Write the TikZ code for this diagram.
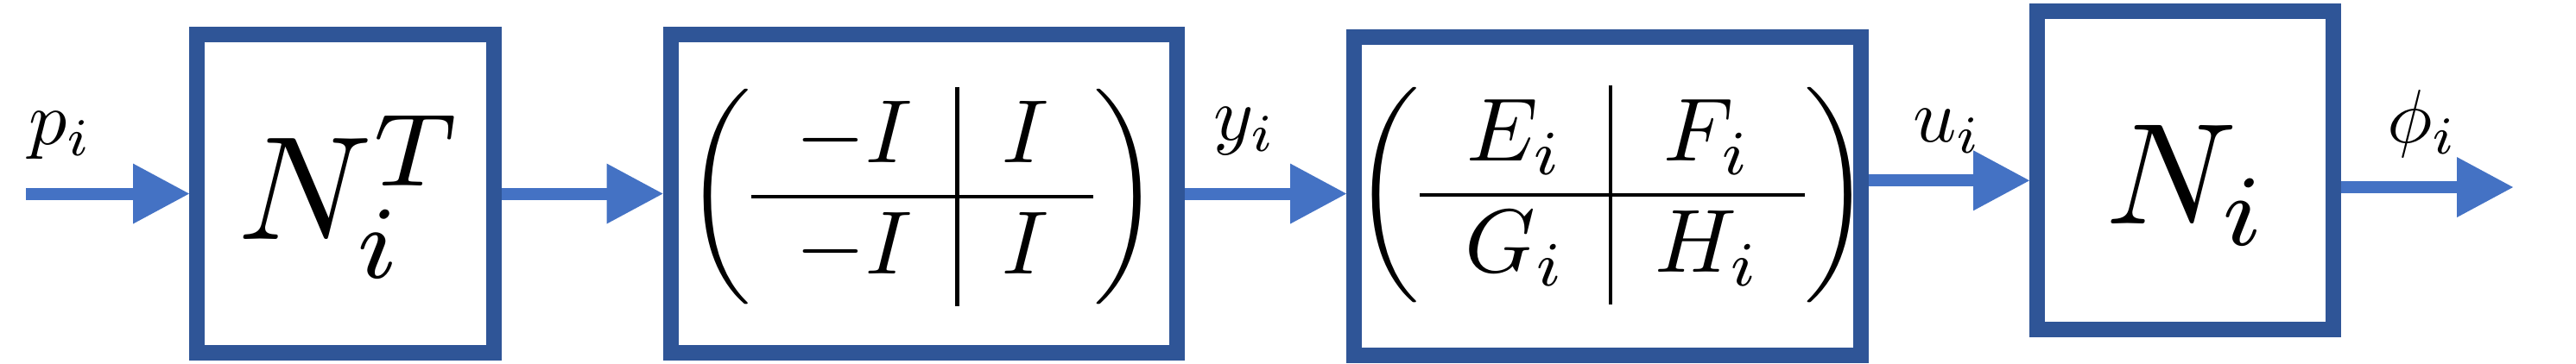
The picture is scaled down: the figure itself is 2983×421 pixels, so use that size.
\documentclass[tikz,border=0pt]{standalone}
\usepackage{graphicx}
\usetikzlibrary{arrows.meta}
\definecolor{boxcol}{RGB}{47,85,151}
\definecolor{arrcol}{RGB}{68,114,196}
\begin{document}
\begin{tikzpicture}[x=0.1pt,y=-0.1pt,
  blk/.style={draw=boxcol, line width=1.8pt, fill=white, inner sep=0pt,
    minimum height=36.9pt},
  txt/.style={inner sep=0pt, outer sep=0pt},
  arr/.style={draw=arrcol, line width=1.4pt,
    -{Triangle[length=6.5pt,width=7pt,line width=0pt]}}]
\useasboundingbox (0,0) rectangle (2983,421);
% blocks
\node[blk, minimum width=34.4pt]  (b1) at (400,224.5) {};
\node[blk, minimum width=58.65pt] (b2) at (1069.75,224.5) {};
\node[blk, minimum width=58.65pt, minimum height=36.95pt] (b3) at (1861.25,227.25) {};
\node[blk, minimum width=34.3pt]  (b4) at (2530.5,197.5) {};
% contents
\node[txt] (t1) at (407,228) {\scalebox{1.71}{$N_i^T$}};
\node[txt] (t2) at (1068,228) {\scalebox{1.04}{$\left(\begin{array}{c|c} -I & I\\ \hline -I & I\end{array}\right)$}};
\node[txt] (t3) at (1867,226) {\scalebox{1.04}{$\left(\begin{array}{c|c} E_i & F_i\\ \hline G_i & H_i\end{array}\right)$}};
\node[txt] (t4) at (2533,215) {\scalebox{1.67}{$N_i$}};
% signal labels
\node[txt] (lp) at (70,157) {\scalebox{0.88}{$p_i$}};
\node[txt] (ly) at (1442,152) {\scalebox{0.88}{$y_i$}};
\node[txt] (lu) at (2255,152) {\scalebox{0.88}{$u_i$}};
\node[txt] (lphi) at (2805,143) {\scalebox{0.88}{$\phi_i$}};
% connectors
\coordinate (in) at (30,224.5);
\coordinate (out) at (2910,217);
\draw[arr] (in) -- (in -| b1.west);
\draw[arr] (b1.east) -- (b2.west);
\draw[arr] (b2.east) -- (b2.east -| b3.west);
\draw[arr] ([yshift=1.8pt]b3.east) coordinate (a4) -- (a4 -| b4.west);
\draw[arr] (b4.east |- out) -- (out);
\end{tikzpicture}
\end{document}
